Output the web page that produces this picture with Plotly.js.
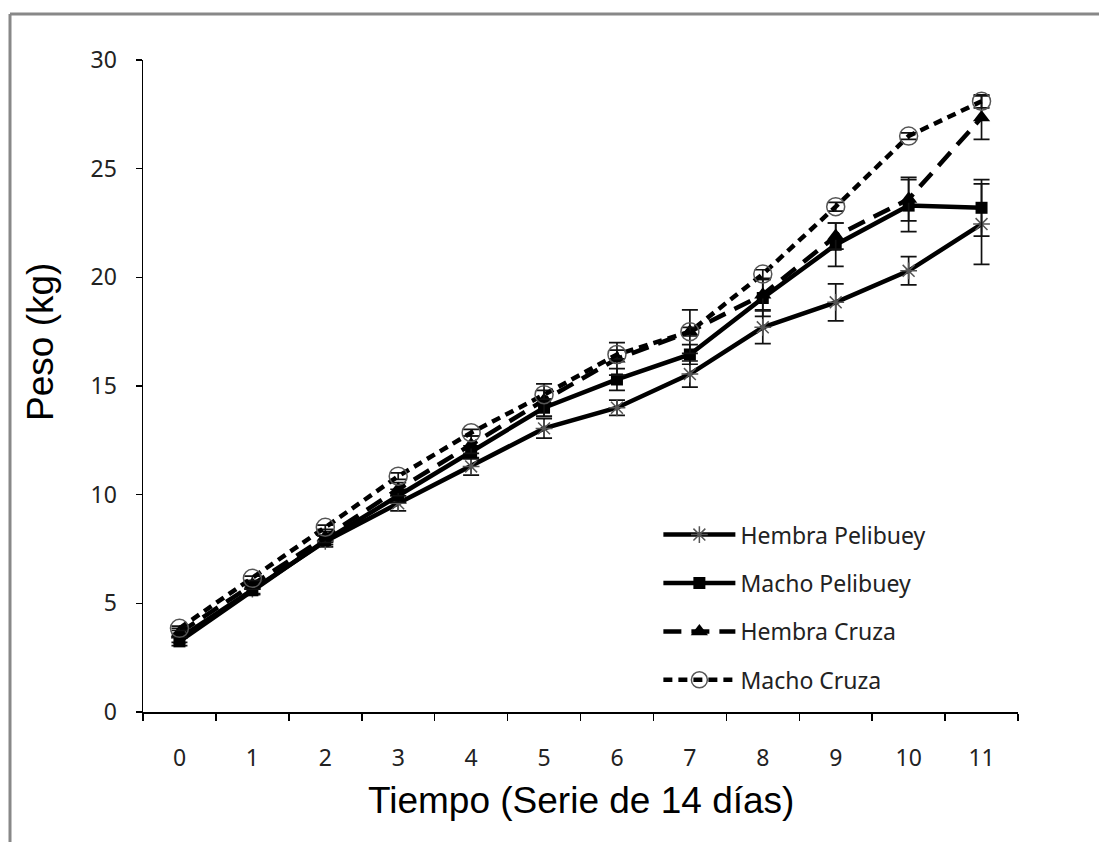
<!DOCTYPE html>
<html>
<head>
<meta charset="utf-8">
<script src="https://cdn.plot.ly/plotly-3.0.1.min.js"></script>
<style>
  html, body { margin: 0; padding: 0; background: #fff; }
  #chart { width: 1099px; height: 842px; }
</style>
</head>
<body>
<div id="chart"></div>
<script>
// Periods (series of 14 days)
const periodos = ['0', '1', '2', '3', '4', '5', '6', '7', '8', '9', '10', '11'];

// Mean weight (kg) per group and standard error
const hembraPelibuey    = [3.4, 5.65, 7.85, 9.6, 11.3, 13.05, 14.0, 15.55, 17.7, 18.85, 20.3, 22.45];
const errHembraPelibuey = [0.2, 0.2, 0.25, 0.35, 0.4, 0.45, 0.35, 0.6, 0.75, 0.85, 0.65, 1.85];

const machoPelibuey     = [3.25, 5.6, 7.9, 9.95, 11.95, 14.0, 15.3, 16.45, 19.05, 21.5, 23.3, 23.2];
const errMachoPelibuey  = [0.2, 0.2, 0.2, 0.3, 0.3, 0.4, 0.5, 0.45, 0.85, 1.0, 1.2, 1.3];

const hembraCruza       = [3.65, 5.85, 8.05, 10.25, 12.3, 14.35, 16.25, 17.5, 19.2, 21.9, 23.6, 27.35];
const errHembraCruza    = [0.2, 0.2, 0.25, 0.3, 0.4, 0.75, 0.75, 1.0, 0.7, 0.6, 1.0, 1.0];

const machoCruza        = [3.85, 6.15, 8.5, 10.85, 12.85, 14.6, 16.45, 17.5, 20.15, 23.25, 26.5, 28.1];
const errMachoCruza     = [0.1, 0.1, 0.1, 0.15, 0.15, 0.2, 0.2, 0.2, 0.2, 0.2, 0.15, 0.3];

const legendFont = { family: 'Noto Sans, sans-serif', size: 23, color: '#222' };

function errBars(arr) {
  return { type: 'data', array: arr, visible: true, color: '#111', thickness: 1.7, width: 8 };
}

const traces = [
  {
    name: 'Hembra Pelibuey', x: periodos, y: hembraPelibuey, legendgroup: 'a',
    type: 'scatter', mode: 'lines+markers',
    line: { color: '#000', width: 4.5 },
    marker: { symbol: 'asterisk-open', size: 14, color: '#555', line: { color: '#555', width: 1.5 } },
    error_y: errBars(errHembraPelibuey)
  },
  {
    name: 'Macho Pelibuey', x: periodos, y: machoPelibuey, legendgroup: 'b',
    type: 'scatter', mode: 'lines+markers',
    line: { color: '#000', width: 4.5 },
    marker: { symbol: 'square', size: 12, color: '#000' },
    error_y: errBars(errMachoPelibuey)
  },
  {
    name: 'Hembra Cruza', x: periodos, y: hembraCruza, legendgroup: 'c',
    type: 'scatter', mode: 'lines+markers',
    line: { color: '#000', width: 4.5, dash: '18px,10px' },
    marker: { symbol: 'triangle-up', size: 15, color: '#000' },
    error_y: errBars(errHembraCruza)
  },
  {
    name: 'Macho Cruza', x: periodos, y: machoCruza, legendgroup: 'd',
    type: 'scatter', mode: 'lines+markers',
    line: { color: '#000', width: 4.5, dash: '9px,6px' },
    marker: { symbol: 'circle-open', size: 18, color: '#555', line: { color: '#555', width: 1.5 } },
    error_y: errBars(errMachoCruza)
  }
];

const tickFont = { family: 'Noto Sans, sans-serif', size: 23, color: '#222' };
const titleFont = { family: 'Liberation Sans, Arial, sans-serif', size: 37, color: '#000' };

const layout = {
  width: 1099, height: 842,
  margin: { l: 143, r: 81, t: 60, b: 130 },
  paper_bgcolor: '#fff', plot_bgcolor: '#fff',
  showlegend: true,
  legend: {
    x: 0.589, xanchor: 'left', y: 0.305, yanchor: 'top',
    font: legendFont, itemwidth: 72, tracegroupgap: 15.5,
    traceorder: 'grouped', bgcolor: 'rgba(0,0,0,0)'
  },
  xaxis: {
    type: 'category', range: [-0.5, 11.5], tickson: 'boundaries',
    showline: true, linecolor: '#000', linewidth: 1.5,
    ticks: 'outside', ticklen: 7, tickwidth: 1.5, tickcolor: '#000',
    showgrid: false, zeroline: false, tickfont: tickFont, ticklabelstandoff: 25
  },
  yaxis: {
    range: [0, 30], dtick: 5, tick0: 0,
    showline: true, linecolor: '#000', linewidth: 1.5,
    ticks: 'outside', ticklen: 6, tickwidth: 1.5, tickcolor: '#000',
    showgrid: false, zeroline: false, tickfont: tickFont, ticklabelstandoff: 14
  },
  annotations: [
    {
      text: 'Tiempo (Serie de 14 días)', xref: 'paper', yref: 'paper',
      x: 0.5, y: -0.135, xanchor: 'center', yanchor: 'middle',
      showarrow: false, font: titleFont
    },
    {
      text: 'Peso (kg)', xref: 'paper', yref: 'paper', textangle: -90,
      x: -0.117, y: 0.567, xanchor: 'center', yanchor: 'middle',
      showarrow: false, font: titleFont
    }
  ],
  shapes: [
    { type: 'line', xref: 'paper', yref: 'paper', x0: -0.152, x1: -0.152, y0: 1.0706, y1: -0.25,
      line: { color: '#888', width: 3 } },
    { type: 'line', xref: 'paper', yref: 'paper', x0: -0.152, x1: 1.15, y0: 1.0706, y1: 1.0706,
      line: { color: '#888', width: 3 } }
  ]
};

Plotly.newPlot('chart', traces, layout, { displayModeBar: false, staticPlot: true });
</script>
</body>
</html>
